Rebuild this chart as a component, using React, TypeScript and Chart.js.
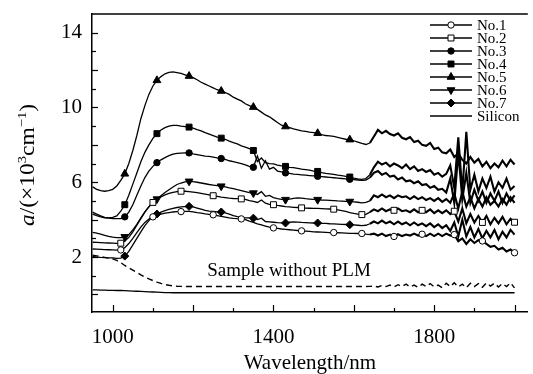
import React, { useEffect, useRef } from 'react';
import { Chart, registerables } from 'chart.js';
import { drawPoint } from 'chart.js/helpers';

Chart.register(...registerables);

// ---------- data ----------
const WAVELENGTHS = [
  950, 960, 970, 980, 990, 1000, 1010, 1020, 1030, 1040,
  1050, 1060, 1070, 1080, 1090, 1100, 1110, 1120, 1130, 1140,
  1150, 1160, 1170, 1180, 1190, 1200, 1210, 1220, 1230, 1240,
  1250, 1260, 1270, 1280, 1290, 1300, 1310, 1320, 1330, 1340,
  1350, 1360, 1370, 1380, 1390, 1400, 1410, 1420, 1430, 1440,
  1450, 1460, 1470, 1480, 1490, 1500, 1510, 1520, 1530, 1540,
  1550, 1560, 1570, 1580, 1590, 1600, 1610, 1620, 1630, 1640,
  1650, 1660, 1670, 1680, 1690, 1700, 1710, 1720, 1730, 1740,
  1750, 1760, 1770, 1780, 1790, 1800, 1810, 1820, 1830, 1840,
  1850, 1860, 1870, 1880, 1890, 1900, 1910, 1920, 1930, 1940,
  1950, 1960, 1970, 1980, 1990, 2000,
];

const NO1 = [
  2.43, 2.42, 2.41, 2.4, 2.39, 2.38, 2.37, 2.38, 2.5, 2.72,
  3.0, 3.3, 3.6, 3.85, 4.03, 4.15, 4.24, 4.3, 4.35, 4.38,
  4.41, 4.43, 4.43, 4.44, 4.44, 4.42, 4.38, 4.35, 4.31, 4.28,
  4.26, 4.22, 4.18, 4.14, 4.1, 4.07, 4.05, 4.04, 4.0, 3.92,
  3.85, 3.78, 3.72, 3.66, 3.6, 3.56, 3.53, 3.5, 3.48, 3.46,
  3.44, 3.42, 3.4, 3.39, 3.37, 3.35, 3.34, 3.33, 3.32, 3.31,
  3.31, 3.3, 3.29, 3.28, 3.27, 3.27, 3.26, 3.26, 3.22, 3.2,
  3.25, 3.15, 3.25, 3.12, 3.2, 3.1, 3.22, 3.12, 3.2, 3.15,
  3.25, 3.15, 3.22, 3.12, 3.25, 3.12, 3.25, 3.12, 3.25, 3.15,
  3.2, 2.85, 3.0, 2.7, 2.95, 2.75, 2.9, 2.86, 2.7, 2.55,
  2.6, 2.4, 2.5, 2.3, 2.4, 2.23,
];

const NO2 = [
  2.79, 2.78, 2.77, 2.76, 2.75, 2.74, 2.73, 2.74, 2.85, 3.05,
  3.35, 3.7, 4.05, 4.4, 4.68, 4.92, 5.1, 5.22, 5.32, 5.4,
  5.46, 5.5, 5.52, 5.52, 5.5, 5.47, 5.44, 5.4, 5.36, 5.32,
  5.28, 5.24, 5.2, 5.18, 5.15, 5.13, 5.12, 5.11, 5.08, 5.02,
  4.98, 4.92, 5.05, 4.88, 4.82, 4.8, 4.76, 4.73, 4.7, 4.68,
  4.66, 4.65, 4.63, 4.62, 4.61, 4.6, 4.6, 4.59, 4.58, 4.57,
  4.56, 4.52, 4.48, 4.44, 4.38, 4.33, 4.3, 4.27, 4.28, 4.4,
  4.55, 4.45, 4.6, 4.45, 4.55, 4.5, 4.6, 4.45, 4.5, 4.4,
  4.55, 4.4, 4.5, 4.4, 4.55, 4.35, 4.5, 4.35, 4.5, 4.3,
  4.45, 3.9, 4.6, 3.8, 4.3, 3.85, 4.2, 3.85, 4.2, 3.75,
  4.1, 3.8, 4.15, 3.75, 4.05, 3.86,
];

const NO3 = [
  4.3, 4.22, 4.15, 4.1, 4.08, 4.06, 4.05, 4.06, 4.15, 4.4,
  4.8, 5.3, 5.8, 6.25, 6.6, 6.85, 7.05, 7.2, 7.32, 7.42,
  7.5, 7.55, 7.56, 7.57, 7.57, 7.52, 7.48, 7.44, 7.4, 7.38,
  7.34, 7.3, 7.27, 7.22, 7.15, 7.1, 7.05, 7.0, 6.93, 6.85,
  6.8, 7.4, 6.75, 7.15, 6.7, 6.8, 6.6, 6.55, 6.5, 6.47,
  6.44, 6.42, 6.4, 6.38, 6.36, 6.34, 6.32, 6.3, 6.28, 6.26,
  6.24, 6.22, 6.2, 6.18, 6.16, 6.14, 6.12, 6.1, 6.12, 6.25,
  6.5, 6.6, 6.4, 6.5, 6.3, 6.35, 6.15, 6.25, 6.05, 6.1,
  5.95, 6.05, 5.85, 5.9, 5.7, 5.8, 5.6, 5.65, 5.45, 6.2,
  4.9, 7.6, 5.1, 6.5, 4.9, 5.6, 5.0, 5.5, 4.9, 5.4,
  5.0, 5.5, 4.9, 5.4, 5.0, 5.3,
];

const NO4 = [
  4.4, 4.3, 4.2, 4.12, 4.1, 4.12, 4.2, 4.45, 4.8, 5.3,
  5.9, 6.5, 7.1, 7.6, 8.0, 8.35, 8.6, 8.8, 8.92, 9.0,
  9.04, 9.04, 9.0, 8.98, 8.95, 8.9, 8.82, 8.75, 8.65, 8.58,
  8.5, 8.42, 8.36, 8.3, 8.2, 8.12, 8.05, 7.95, 7.88, 7.8,
  7.7, 7.1, 7.3, 7.05, 7.0, 6.98, 6.92, 6.88, 6.85, 6.8,
  6.78, 6.74, 6.7, 6.68, 6.65, 6.6, 6.58, 6.52, 6.48, 6.45,
  6.42, 6.38, 6.35, 6.32, 6.28, 6.22, 6.18, 6.15, 6.2, 6.4,
  6.8, 7.1, 6.95, 7.05, 6.85, 7.0, 6.9, 6.75, 6.95, 6.7,
  6.85, 6.6, 6.7, 6.55, 6.65, 6.4, 6.5, 6.3, 6.45, 6.9,
  5.7, 8.4, 5.5, 8.7, 5.6, 6.4, 5.5, 6.2, 5.7, 6.3,
  5.5, 6.0, 5.7, 6.2, 5.6, 5.8,
];

const NO5 = [
  5.75, 5.62, 5.55, 5.52, 5.55, 5.62, 5.8, 6.1, 6.45, 7.0,
  7.7, 8.5, 9.4, 10.1, 10.7, 11.15, 11.45, 11.65, 11.8, 11.88,
  11.9, 11.87, 11.82, 11.75, 11.68, 11.6, 11.48, 11.35, 11.25, 11.15,
  11.05, 10.95, 10.88, 10.8, 10.7, 10.55, 10.45, 10.35, 10.2, 10.1,
  10.02, 9.9, 9.75, 9.6, 9.5, 9.35, 9.2, 9.05, 8.98, 8.92,
  8.85, 8.8, 8.75, 8.72, 8.68, 8.65, 8.62, 8.55, 8.5, 8.48,
  8.45, 8.4, 8.35, 8.3, 8.28, 8.22, 8.15, 8.08, 8.02, 8.1,
  8.45, 8.8, 8.62, 8.75, 8.58, 8.5, 8.62, 8.38, 8.3, 8.42,
  8.15, 8.22, 8.0, 7.95, 8.1, 7.78, 7.85, 7.6, 7.55, 7.75,
  7.35, 7.55, 7.2, 7.0, 7.35, 7.05, 7.25, 6.85, 7.1, 6.75,
  7.0, 6.8, 7.15, 6.85, 7.2, 6.95,
];

const NO6 = [
  3.32, 3.28, 3.22, 3.16, 3.1, 3.06, 3.04, 3.04, 3.08, 3.2,
  3.45, 3.75, 4.1, 4.42, 4.7, 4.92, 5.1, 5.28, 5.45, 5.6,
  5.75, 5.88, 5.96, 6.02, 6.05, 6.03, 6.0, 5.96, 5.92, 5.88,
  5.85, 5.82, 5.79, 5.75, 5.7, 5.66, 5.6, 5.55, 5.5, 5.45,
  5.42, 5.35, 5.5, 5.25, 5.3, 5.18, 5.12, 5.08, 5.07, 5.1,
  5.14, 5.16, 5.15, 5.12, 5.1, 5.08, 5.07, 5.05, 5.04, 5.03,
  5.02, 5.0, 4.99, 4.98, 4.97, 4.95, 4.93, 4.9, 4.92, 5.0,
  5.3, 5.2, 5.35, 5.2, 5.3, 5.15, 5.3, 5.2, 5.25, 5.1,
  5.25, 5.1, 5.2, 5.05, 5.15, 5.0, 5.15, 4.95, 5.1, 4.9,
  5.4, 4.6, 5.5, 4.7, 5.2, 4.6, 5.1, 4.7, 5.2, 4.8,
  5.0, 4.7, 5.1, 4.8, 5.2, 4.9,
];

const NO7 = [
  2.04, 2.0, 1.98, 1.97, 1.96, 1.95, 1.93, 1.94, 2.05, 2.3,
  2.65, 3.0, 3.35, 3.68, 3.95, 4.17, 4.3, 4.4, 4.48, 4.55,
  4.6, 4.65, 4.68, 4.7, 4.71, 4.68, 4.62, 4.56, 4.5, 4.46,
  4.44, 4.42, 4.41, 4.36, 4.3, 4.22, 4.16, 4.12, 4.1, 4.09,
  4.08, 4.0, 4.08, 3.9, 3.88, 3.86, 3.84, 3.83, 3.82, 3.86,
  3.88, 3.87, 3.85, 3.84, 3.83, 3.82, 3.82, 3.8, 3.8, 3.78,
  3.77, 3.76, 3.75, 3.74, 3.73, 3.72, 3.7, 3.68, 3.7, 3.78,
  3.9, 3.8, 3.95, 3.8, 3.9, 3.75, 3.9, 3.75, 3.85, 3.7,
  3.85, 3.7, 3.8, 3.65, 3.8, 3.6, 3.75, 3.55, 3.7, 3.4,
  3.85, 3.1, 4.0, 3.1, 3.6, 3.05, 3.5, 3.0, 3.4, 3.05,
  3.45, 2.95, 3.35, 3.05, 3.45, 3.2,
];

const SILICON = [
  0.24, 0.24, 0.23, 0.23, 0.22, 0.22, 0.21, 0.21, 0.2, 0.19,
  0.18, 0.17, 0.16, 0.15, 0.14, 0.13, 0.12, 0.11, 0.1, 0.1,
  0.09, 0.09, 0.09, 0.09, 0.09, 0.09, 0.09, 0.09, 0.09, 0.09,
  0.09, 0.09, 0.09, 0.09, 0.09, 0.09, 0.09, 0.09, 0.09, 0.09,
  0.09, 0.09, 0.09, 0.09, 0.09, 0.09, 0.09, 0.09, 0.09, 0.09,
  0.09, 0.09, 0.09, 0.09, 0.09, 0.09, 0.09, 0.09, 0.09, 0.09,
  0.09, 0.09, 0.09, 0.09, 0.09, 0.09, 0.09, 0.09, 0.09, 0.09,
  0.09, 0.09, 0.09, 0.09, 0.09, 0.09, 0.09, 0.09, 0.09, 0.09,
  0.09, 0.09, 0.09, 0.09, 0.09, 0.09, 0.09, 0.09, 0.09, 0.09,
  0.09, 0.09, 0.09, 0.09, 0.09, 0.09, 0.09, 0.09, 0.09, 0.09,
  0.09, 0.09, 0.09, 0.09, 0.09, 0.09,
];

const NO_PLM = [
  2.1, 2.06, 2.02, 1.98, 1.94, 1.9, 1.82, 1.7, 1.55, 1.42,
  1.3, 1.18, 1.05, 0.93, 0.83, 0.74, 0.66, 0.59, 0.53, 0.49,
  0.46, 0.44, 0.43, 0.42, 0.42, 0.42, 0.42, 0.42, 0.42, 0.42,
  0.42, 0.42, 0.42, 0.42, 0.42, 0.42, 0.42, 0.42, 0.42, 0.42,
  0.42, 0.42, 0.42, 0.42, 0.42, 0.42, 0.42, 0.42, 0.42, 0.42,
  0.42, 0.42, 0.42, 0.42, 0.42, 0.42, 0.42, 0.42, 0.42, 0.42,
  0.42, 0.42, 0.42, 0.42, 0.42, 0.42, 0.42, 0.42, 0.42, 0.43,
  0.45, 0.4, 0.48, 0.42, 0.5, 0.4, 0.52, 0.42, 0.55, 0.4,
  0.5, 0.38, 0.55, 0.42, 0.58, 0.4, 0.5, 0.36, 0.6, 0.42,
  0.62, 0.4, 0.55, 0.36, 0.6, 0.42, 0.58, 0.38, 0.62, 0.45,
  0.6, 0.4, 0.58, 0.42, 0.62, 0.35,
];

// wavelengths at which the symbols are printed
const MARKS_A = [1030, 1110, 1190, 1270, 1350, 1430, 1510, 1590];
const MARKS_B = [1020, 1100, 1170, 1250, 1320, 1400, 1470, 1550, 1620, 1700, 1770, 1850, 1920, 2000];

const SERIES_NAMES = ['No.1', 'No.2', 'No.3', 'No.4', 'No.5', 'No.6', 'No.7', 'Silicon'];
const ANNOTATION = 'Sample without PLM';

const X_TICKS = [1000, 1100, 1200, 1300, 1400, 1500, 1600, 1700, 1800, 1900, 2000];
const X_LABELS = [1000, 1400, 1800];
const Y_TICKS = [0, 1, 2, 3, 4, 5, 6, 7, 8, 9, 10, 11, 12, 13, 14];
const Y_LABELS = [2, 6, 10, 14];
const NOISY_FROM = 1640;

// ---------- styles ----------
const SERIF = '"Liberation Serif", "Times New Roman", serif';
type Sty = { style: any; fill: string; radius: number; rotation: number; marks: number[] | null };
const STYLES: Sty[] = [
  { style: 'circle', fill: '#fff', radius: 3.2, rotation: 0, marks: MARKS_B },
  { style: 'rect', fill: '#fff', radius: 4.2, rotation: 0, marks: MARKS_B },
  { style: 'circle', fill: '#000', radius: 3.2, rotation: 0, marks: MARKS_A },
  { style: 'rect', fill: '#000', radius: 4.2, rotation: 0, marks: MARKS_A },
  { style: 'triangle', fill: '#000', radius: 4.5, rotation: 0, marks: MARKS_A },
  { style: 'triangle', fill: '#000', radius: 4.5, rotation: 180, marks: MARKS_A },
  { style: 'rectRot', fill: '#000', radius: 4.0, rotation: 0, marks: MARKS_A },
  { style: false, fill: '#000', radius: 0, rotation: 0, marks: null },
];
const SERIES_DATA = [NO1, NO2, NO3, NO4, NO5, NO6, NO7, SILICON];

const toPoints = (arr: number[]) => WAVELENGTHS.map((x, i) => ({ x, y: arr[i] }));

const decorPlugin = {
  id: 'decor',
  afterDraw(chart: any) {
    const { ctx, chartArea } = chart;
    const xs = chart.scales.x;
    const ys = chart.scales.y;
    ctx.save();
    ctx.strokeStyle = '#000';
    ctx.fillStyle = '#000';
    // top frame line
    ctx.lineWidth = 1.5;
    ctx.beginPath();
    ctx.moveTo(chartArea.left, chartArea.top);
    ctx.lineTo(chartArea.right, chartArea.top);
    ctx.stroke();
    // inward ticks
    ctx.lineWidth = 1.2;
    X_TICKS.forEach((v) => {
      const px = Math.round(xs.getPixelForValue(v)) + 0.5;
      const len = v % 200 === 0 ? 7 : 4;
      ctx.beginPath();
      ctx.moveTo(px, chartArea.bottom);
      ctx.lineTo(px, chartArea.bottom - len);
      ctx.stroke();
    });
    Y_TICKS.forEach((v) => {
      const py = Math.round(ys.getPixelForValue(v)) + 0.5;
      const len = v % 2 === 0 ? 6 : 4;
      ctx.beginPath();
      ctx.moveTo(chartArea.left, py);
      ctx.lineTo(chartArea.left + len, py);
      ctx.stroke();
    });

    // annotation text
    ctx.font = `19px ${SERIF}`;
    ctx.textAlign = 'left';
    ctx.textBaseline = 'alphabetic';
    ctx.fillText(ANNOTATION, xs.getPixelForValue(1235), ys.getPixelForValue(1.0));

    // legend
    ctx.font = `15px ${SERIF}`;
    ctx.textBaseline = 'middle';
    SERIES_NAMES.forEach((name, i) => {
      const y = 25 + i * 13;
      ctx.lineWidth = 1.5;
      ctx.strokeStyle = '#000';
      ctx.beginPath();
      ctx.moveTo(430, y);
      ctx.lineTo(472, y);
      ctx.stroke();
      const s = STYLES[i];
      if (s.style) {
        ctx.fillStyle = s.fill;
        ctx.lineWidth = 1;
        drawPoint(ctx, { pointStyle: s.style, rotation: s.rotation, radius: s.radius, borderWidth: 1 }, 451, y);
      }
      ctx.fillStyle = '#000';
      ctx.fillText(name, 477, y + 1);
    });

    // y-axis title (rotated, with italic a and superscripts)
    ctx.translate(34, 165);
    ctx.rotate(-Math.PI / 2);
    ctx.scale(1.12, 1);
    const parts = [
      { t: 'a', f: `italic 21px ${SERIF}`, dy: 0 },
      { t: '/(\u00d710', f: `21px ${SERIF}`, dy: 0 },
      { t: '3', f: `13px ${SERIF}`, dy: -8 },
      { t: 'cm', f: `21px ${SERIF}`, dy: 0 },
      { t: '\u22121', f: `13px ${SERIF}`, dy: -8 },
      { t: ')', f: `21px ${SERIF}`, dy: 0 },
    ];
    let total = 0;
    const widths = parts.map((p) => {
      ctx.font = p.f;
      const w = ctx.measureText(p.t).width;
      total += w;
      return w;
    });
    let cx = -total / 2;
    ctx.textBaseline = 'alphabetic';
    parts.forEach((p, i) => {
      ctx.font = p.f;
      ctx.fillText(p.t, cx, p.dy);
      cx += widths[i];
    });
    ctx.restore();
  },
};

export default function App() {
  const ref = useRef<HTMLCanvasElement | null>(null);
  useEffect(() => {
    if (!ref.current) return;
    const datasets: any[] = SERIES_DATA.map((arr, i) => {
      const s = STYLES[i];
      return {
        label: SERIES_NAMES[i],
        data: toPoints(arr),
        borderColor: '#000',
        borderWidth: 1.3,
        segment: {
          borderWidth: (c: any) => (c.p0.parsed.x >= NOISY_FROM && i < 7 ? 2.1 : 1.3),
        },
        pointStyle: s.style || 'circle',
        pointRotation: s.rotation,
        pointBackgroundColor: s.fill,
        pointBorderColor: '#000',
        pointBorderWidth: 1,
        pointRadius: (c: any) => (s.marks && s.marks.includes(WAVELENGTHS[c.dataIndex]) ? s.radius : 0),
        pointHoverRadius: 0,
        tension: 0,
        fill: false,
      };
    });
    datasets.push({
      label: ANNOTATION,
      data: toPoints(NO_PLM),
      borderColor: '#000',
      borderWidth: 1.4,
      borderDash: [6, 4],
      pointRadius: 0,
      tension: 0,
      fill: false,
    });

    const chart = new Chart(ref.current, {
      type: 'line',
      data: { datasets },
      options: {
        responsive: false,
        maintainAspectRatio: false,
        animation: false,
        events: [],
        layout: { padding: { top: 14, left: 0, right: 0, bottom: 0 } },
        plugins: { legend: { display: false }, tooltip: { enabled: false } },
        scales: {
          x: {
            type: 'linear',
            min: 948.4,
            max: 2033,
            grid: { display: false, drawTicks: false },
            border: { display: true, color: '#000', width: 1.5 },
            afterBuildTicks: (scale: any) => {
              scale.ticks = X_TICKS.map((v) => ({ value: v }));
            },
            afterFit: (scale: any) => {
              scale.height = 62;
              scale.paddingLeft = 0;
              scale.paddingRight = 0;
            },
            ticks: {
              autoSkip: false,
              maxRotation: 0,
              padding: 13,
              color: '#000',
              font: { family: SERIF, size: 21 },
              callback: (v: any) => (X_LABELS.includes(Number(v)) ? String(v) : ''),
            },
            title: {
              display: true,
              text: 'Wavelength/nm',
              color: '#000',
              font: { family: SERIF, size: 21 },
              padding: { top: 0, bottom: -2 },
            },
          },
          y: {
            type: 'linear',
            min: -0.94,
            max: 15.0,
            grid: { display: false, drawTicks: false },
            border: { display: true, color: '#000', width: 1.5 },
            afterBuildTicks: (scale: any) => {
              scale.ticks = Y_TICKS.map((v) => ({ value: v }));
            },
            afterFit: (scale: any) => {
              scale.width = 92;
              scale.paddingTop = 0;
              scale.paddingBottom = 0;
            },
            ticks: {
              autoSkip: false,
              padding: 10,
              color: '#000',
              font: { family: SERIF, size: 21 },
              callback: (v: any) => (Y_LABELS.includes(Number(v)) ? String(v) : ''),
            },
          },
        },
      },
      plugins: [decorPlugin],
    });
    return () => chart.destroy();
  }, []);

  return (
    <div style={{ position: 'fixed', left: 0, top: 0, width: 533, height: 374, background: '#fff' }}>
      <canvas ref={ref} width={533} height={374} style={{ display: 'block', width: 533, height: 374 }} />
    </div>
  );
}
